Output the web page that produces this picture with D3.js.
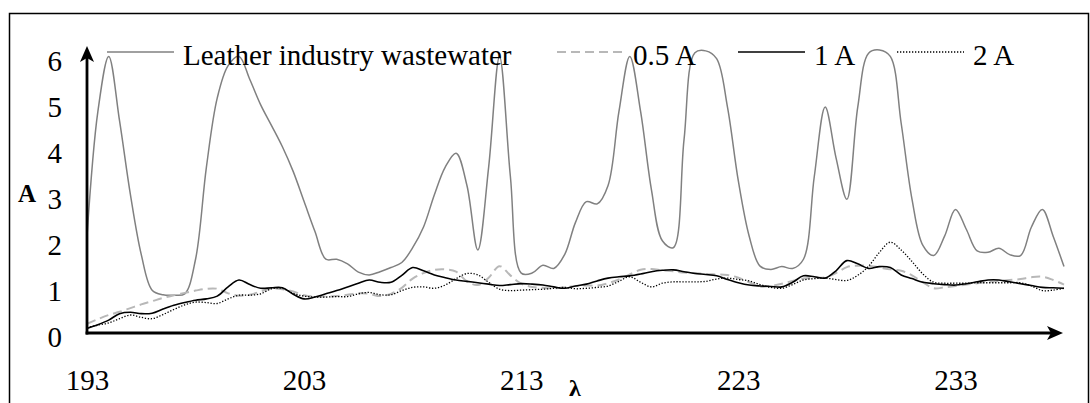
<!DOCTYPE html>
<html>
<head>
<meta charset="utf-8">
<script src="https://cdn.jsdelivr.net/npm/d3@7"></script>
<style>
  body { margin: 0; background: #fff; }
  svg text { font-family: "Liberation Serif", "Times New Roman", serif; fill: #000; }
</style>
</head>
<body>
<div id="chart"></div>
<script>
// wavelength (nm), sampled every 0.5
const wavelengths = [
  193, 193.5, 194, 194.5, 195, 195.5, 196, 196.5, 197, 197.5,
  198, 198.5, 199, 199.5, 200, 200.5, 201, 201.5, 202, 202.5,
  203, 203.5, 204, 204.5, 205, 205.5, 206, 206.5, 207, 207.5,
  208, 208.5, 209, 209.5, 210, 210.5, 211, 211.5, 212, 212.5,
  213, 213.5, 214, 214.5, 215, 215.5, 216, 216.5, 217, 217.5,
  218, 218.5, 219, 219.5, 220, 220.5, 221, 221.5, 222, 222.5,
  223, 223.5, 224, 224.5, 225, 225.5, 226, 226.5, 227, 227.5,
  228, 228.5, 229, 229.5, 230, 230.5, 231, 231.5, 232, 232.5,
  233, 233.5, 234, 234.5, 235, 235.5, 236, 236.5, 237, 237.5, 238
]

const leather = [
  2.1, 4.8, 6.0, 4.6, 3.0, 1.7, 0.93, 0.83, 0.82, 0.85,
  1.6, 3.6, 5.1, 5.8, 6.0, 5.5, 4.95, 4.5, 4.04, 3.5,
  2.85, 2.2, 1.6, 1.6, 1.5, 1.32, 1.26, 1.33, 1.42, 1.53,
  1.85, 2.3, 3.0, 3.6, 3.9, 3.2, 1.8, 3.6, 6.0, 3.4,
  1.3, 1.3, 1.47, 1.4, 1.7, 2.4, 2.85, 2.8, 3.2, 4.8,
  6.0, 4.8, 3.1, 2.0, 1.85, 4.2, 6.08, 6.12, 5.95, 4.9,
  3.3, 2.1, 1.45, 1.38, 1.44, 1.4, 1.6, 3.4, 4.9, 3.8,
  2.9, 4.9, 6.07, 6.14, 6.0, 4.55, 2.9, 1.9, 1.68, 2.1,
  2.68, 2.25, 1.78, 1.75, 1.84, 1.7, 1.68, 2.3, 2.68, 2.1, 1.44
]

const halfAmp = [
  0.2, 0.3, 0.39, 0.46, 0.54, 0.62, 0.69, 0.76, 0.82, 0.87,
  0.92, 0.96, 0.96, 0.86, 0.81, 0.83, 0.9, 0.96, 0.95, 0.9,
  0.82, 0.79, 0.79, 0.8, 0.83, 0.86, 0.85, 0.8, 0.85, 0.98,
  1.18, 1.3, 1.37, 1.38, 1.33, 1.12, 1.04, 1.2, 1.45, 1.25,
  1.07, 1.0, 0.98, 0.97, 0.99, 1.02, 1.03, 1.03, 1.08, 1.16,
  1.27, 1.37, 1.39, 1.36, 1.34, 1.31, 1.3, 1.28, 1.27, 1.26,
  1.2, 1.1, 1.01, 1.02, 1.07, 1.13, 1.18, 1.2, 1.21, 1.3,
  1.43, 1.46, 1.46, 1.42, 1.38, 1.35, 1.25, 1.1, 0.97, 0.99,
  1.02, 1.05, 1.08, 1.11, 1.13, 1.15, 1.17, 1.21, 1.22, 1.15, 1.05
]

const oneAmp = [
  0.1, 0.18, 0.28, 0.42, 0.45, 0.42, 0.43, 0.52, 0.6, 0.66,
  0.71, 0.74, 0.8, 1.0, 1.15, 1.05, 0.97, 0.98, 0.98, 0.84,
  0.74, 0.78, 0.85, 0.92, 1.0, 1.08, 1.15, 1.1, 1.1, 1.25,
  1.42, 1.35, 1.26, 1.2, 1.15, 1.12, 1.09, 1.06, 1.03, 1.05,
  1.07, 1.06, 1.04, 1.0, 0.97, 1.02, 1.06, 1.13, 1.19, 1.22,
  1.24, 1.28, 1.33, 1.36, 1.37, 1.33, 1.29, 1.27, 1.24, 1.16,
  1.09, 1.04, 1.02, 1.01, 1.0, 1.1, 1.24, 1.22, 1.19, 1.35,
  1.57, 1.5, 1.4, 1.44, 1.42, 1.26, 1.18, 1.1, 1.07, 1.05,
  1.04, 1.07, 1.11, 1.15, 1.15, 1.11, 1.07, 1.03, 0.99, 0.98, 0.97
]

const twoAmp = [
  0.12, 0.17, 0.22, 0.31, 0.39, 0.34, 0.31, 0.4, 0.51, 0.61,
  0.67, 0.66, 0.64, 0.74, 0.82, 0.82, 0.85, 0.96, 0.97, 0.86,
  0.8, 0.78, 0.78, 0.79, 0.79, 0.85, 0.88, 0.83, 0.83, 0.92,
  0.99, 1.0, 0.97, 1.04, 1.18, 1.29, 1.26, 1.1, 0.95, 0.92,
  0.93, 0.94, 0.95, 0.97, 0.99, 0.96, 0.97, 0.99, 1.02, 1.12,
  1.22, 1.1, 1.0, 1.08, 1.11, 1.11, 1.11, 1.12, 1.17, 1.19,
  1.16, 1.13, 1.05, 0.99, 0.97, 1.05, 1.15, 1.18, 1.19, 1.16,
  1.14, 1.25, 1.45, 1.75, 1.97, 1.8, 1.55, 1.28, 1.1, 1.08,
  1.08, 1.08, 1.09, 1.09, 1.09, 1.09, 1.09, 1.02, 0.92, 0.93, 0.97
]

const seriesNames = ["Leather industry wastewater", "0.5 A", "1 A", "2 A"]
const xTicks = [193, 203, 213, 223, 233]
const yTicks = [0, 1, 2, 3, 4, 5, 6]

const width = 1090
const height = 403
const fontSize = 29

const styles = [
  { color: "#808080", width: 1.5, dash: null },
  { color: "#b8b8b8", width: 2, dash: "9,5" },
  { color: "#000000", width: 1.6, dash: null },
  { color: "#000000", width: 1.3, dash: "1.3,1.7" }
]
const seriesValues = [leather, halfAmp, oneAmp, twoAmp]

const svg = d3.select("#chart")
  .append("svg")
  .attr("width", width)
  .attr("height", height)

// outer frame
svg.append("rect")
  .attr("x", 9.5)
  .attr("y", 13.5)
  .attr("width", 1079)
  .attr("height", 420)
  .attr("fill", "none")
  .attr("stroke", "#000")
  .attr("stroke-width", 1.5)

const x = d3.scaleLinear().domain([193, 238]).range([87, 1064])
const y = d3.scaleLinear().domain([0, 6]).range([333, 56.4])

// tick labels (no tick marks, no domain line)
const yAxis = svg.append("g")
  .attr("transform", `translate(${x(193)},0)`)
  .call(d3.axisLeft(y).tickValues(yTicks).tickSize(0).tickPadding(25).tickFormat(d3.format("d")))
yAxis.select(".domain").remove()
yAxis.selectAll("text")
  .attr("dy", "0.47em")
  .style("font-size", fontSize + "px")
  .style("font-family", "'Liberation Serif', serif")

const xAxis = svg.append("g")
  .attr("transform", `translate(0,${y(0)})`)
  .call(d3.axisBottom(x).tickValues(xTicks).tickSize(0).tickPadding(36).tickFormat(d3.format("d")))
xAxis.select(".domain").remove()
xAxis.selectAll("text")
  .attr("dy", "0.71em")
  .style("font-size", fontSize + "px")
  .style("font-family", "'Liberation Serif', serif")

// series lines
const line = d3.line()
  .x((d, i) => x(wavelengths[i]))
  .y(d => y(d))
  .curve(d3.curveCatmullRom.alpha(0.5))

seriesValues.forEach((vals, k) => {
  svg.append("path")
    .datum(vals)
    .attr("d", line)
    .attr("fill", "none")
    .attr("stroke", styles[k].color)
    .attr("stroke-width", styles[k].width)
    .attr("stroke-dasharray", styles[k].dash)
})

// axes with arrow heads
const x0 = x(193), y0 = y(0)
const yTop = 46, xEnd = 1063

svg.append("line")
  .attr("x1", x0).attr("y1", y0 + 1.5)
  .attr("x2", x0).attr("y2", yTop + 8)
  .attr("stroke", "#000").attr("stroke-width", 2.8)
svg.append("path")
  .attr("d", `M${x0},${yTop} L${x0 + 7},${yTop + 16} L${x0},${yTop + 12} L${x0 - 7},${yTop + 16} Z`)
  .attr("fill", "#000")

svg.append("line")
  .attr("x1", x0 - 1.4).attr("y1", y0)
  .attr("x2", xEnd - 8).attr("y2", y0)
  .attr("stroke", "#000").attr("stroke-width", 2.8)
svg.append("path")
  .attr("d", `M${xEnd},${y0} L${xEnd - 16},${y0 - 7} L${xEnd - 12},${y0} L${xEnd - 16},${y0 + 7} Z`)
  .attr("fill", "#000")

// axis titles
svg.append("text")
  .attr("x", 18)
  .attr("y", 202)
  .style("font-size", "25px")
  .style("font-weight", "bold")
  .text("A")

svg.append("text")
  .attr("x", 575)
  .attr("y", 396)
  .attr("text-anchor", "middle")
  .style("font-size", "24px")
  .style("font-weight", "bold")
  .text("λ")

// legend
const legendX = [107, 557, 738, 897]
const legendY = 52
const legend = svg.append("g")
seriesNames.forEach((name, k) => {
  legend.append("line")
    .attr("x1", legendX[k]).attr("x2", legendX[k] + 67)
    .attr("y1", legendY).attr("y2", legendY)
    .attr("stroke", styles[k].color)
    .attr("stroke-width", styles[k].width)
    .attr("stroke-dasharray", styles[k].dash)
  legend.append("text")
    .attr("x", legendX[k] + 76)
    .attr("y", legendY + 13)
    .style("font-size", fontSize + "px")
    .text(name)
})
</script>
</body>
</html>
